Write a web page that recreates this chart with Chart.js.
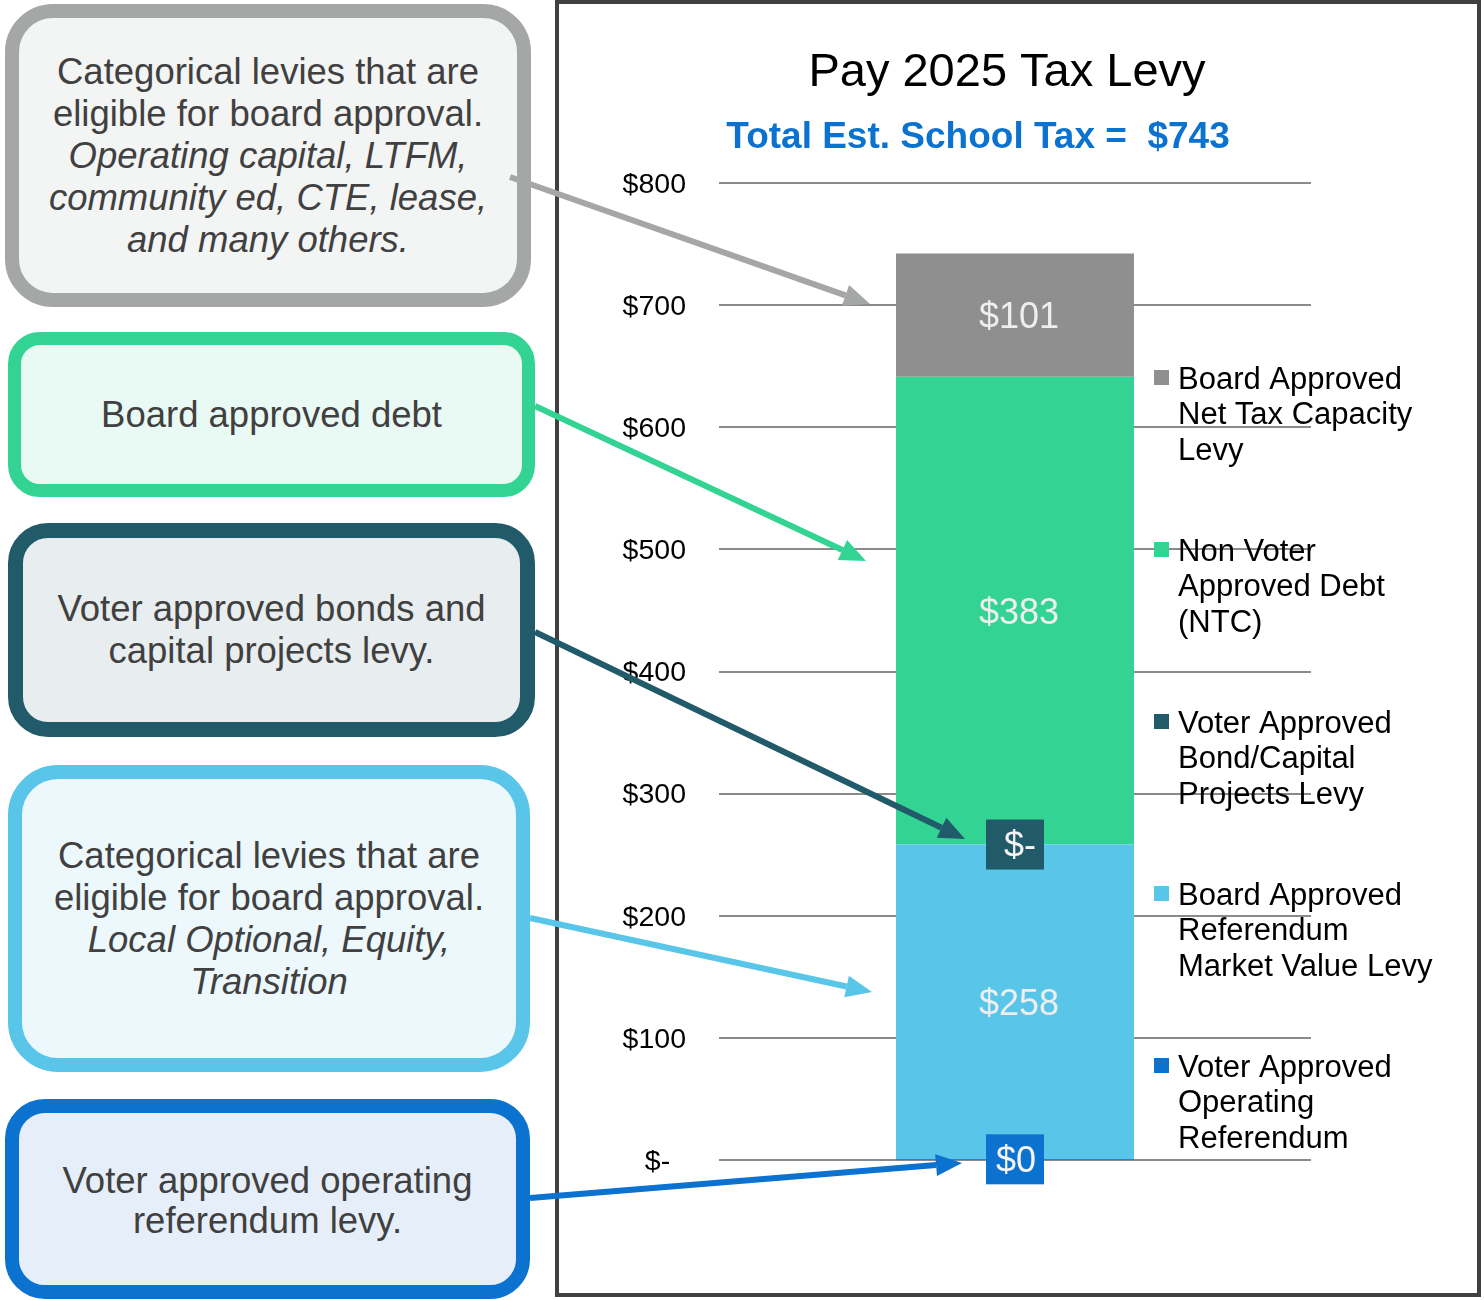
<!DOCTYPE html>
<html lang="en">
<head>
    <meta charset="UTF-8">
    <title>Pay 2025 Tax Levy</title>
    <script src="https://cdn.jsdelivr.net/npm/chart.js"></script>
    <style>
        body { margin: 0; background: #fff; font-family: Arial, "Liberation Sans", sans-serif; }
        #wrap { position: relative; width: 1484px; height: 1300px; overflow: hidden; }
        #levyChart { position: absolute; left: 0; top: 0; z-index: 2; pointer-events: none; }
        .note {
            position: absolute; box-sizing: border-box;
            display: flex; align-items: center; justify-content: center;
            text-align: center; color: #404040; font-size: 36.5px; line-height: 42px;
        }
        .note i { font-style: italic; }
    </style>
</head>
<body>
<div id="wrap">
    <div class="note" style="left:5px;top:4px;width:526px;height:303px;border:14px solid #A5A6A6;background:#F3F4F4;border-radius:48px;">
        <div>Categorical levies that are<br>eligible for board approval.<br><i>Operating capital, LTFM,<br>community ed, CTE, lease,<br>and many others.</i></div>
    </div>
    <div class="note" style="left:8px;top:332px;width:527px;height:165px;border:13px solid #32D393;background:#E9F9F3;border-radius:32px;">
        <div>Board approved debt</div>
    </div>
    <div class="note" style="left:8px;top:523px;width:527px;height:214px;border:15px solid #215A69;background:#E8EDEF;border-radius:40px;">
        <div>Voter approved bonds and<br>capital projects levy.</div>
    </div>
    <div class="note" style="left:8px;top:765px;width:522px;height:307px;border:14px solid #58C5E9;background:#EDF8FC;border-radius:50px;">
        <div>Categorical levies that are<br>eligible for board approval.<br><i>Local Optional, Equity,<br>Transition</i></div>
    </div>
    <div class="note" style="left:5px;top:1099px;width:525px;height:200px;border:14px solid #0B72CF;background:#E6EFF9;border-radius:40px;line-height:40px;">
        <div style="margin-top:4px;">Voter approved operating<br>referendum levy.</div>
    </div>
    <canvas id="levyChart" width="1484" height="1300"></canvas>
</div>
<script>
    // stack order, bottom to top
    const seriesNames = [
        ['Voter Approved', 'Operating', 'Referendum'],
        ['Board Approved', 'Referendum', 'Market Value Levy'],
        ['Voter Approved', 'Bond/Capital', 'Projects Levy'],
        ['Non Voter', 'Approved Debt', '(NTC)'],
        ['Board Approved', 'Net Tax Capacity', 'Levy']
    ];
    const seriesValues = [0.3, 258, 0, 383, 101];
    const seriesColors = ['#0B72CF', '#58C5E9', '#215A69', '#32D393', '#8F8F8F'];
    const categories = ['Pay 2025'];
    const yTicks = [0, 100, 200, 300, 400, 500, 600, 700, 800];

    const titleText = 'Pay 2025 Tax Levy';
    const subtitleText = 'Total Est. School Tax =  $743';

    const FONT = 'Arial, "Liberation Sans", sans-serif';

    // callout arrows: from note box edge to the bar
    const callouts = [
        { from: [510, 177], to: [870, 304], color: '#A5A6A6' },
        { from: [535, 406], to: [866, 561], color: '#32D393' },
        { from: [535, 632], to: [965, 839], color: '#215A69' },
        { from: [530, 918], to: [872, 992], color: '#58C5E9' },
        { from: [530, 1198], to: [962, 1163], color: '#0B72CF' }
    ];

    function money(v) {
        if (v === 0) return '$-';
        return '$' + Math.round(v);
    }

    const labelPlugin = {
        id: 'segmentLabels',
        afterDatasetsDraw(chart) {
            const ctx = chart.ctx;
            ctx.save();
            ctx.font = '36px ' + FONT;
            ctx.textAlign = 'center';
            ctx.textBaseline = 'middle';
            chart.data.datasets.forEach((ds, i) => {
                const bar = chart.getDatasetMeta(i).data[0];
                const v = ds.data[0];
                const cx = bar.x;
                const cy = (bar.y + bar.base) / 2;
                if (Math.round(v) === 0) {
                    ctx.fillStyle = ds.backgroundColor;
                    ctx.fillRect(cx - 29, cy - 25, 58, 50);
                    ctx.fillStyle = '#F4F4F4';
                    ctx.fillText(money(v), cx + (v === 0 ? 5 : 1), cy + 3);
                } else {
                    ctx.fillStyle = '#EEEEEE';
                    ctx.fillText(money(v), cx + 4, cy + 3);
                }
            });
            ctx.restore();
        },
        afterDraw(chart) {
            const ctx = chart.ctx;
            ctx.save();

            // frame
            ctx.strokeStyle = '#404040';
            ctx.lineWidth = 4;
            ctx.strokeRect(557, 2, 922, 1293);

            // titles
            ctx.textAlign = 'center';
            ctx.textBaseline = 'alphabetic';
            ctx.fillStyle = '#000';
            ctx.font = '47px ' + FONT;
            ctx.fillText(titleText, 1007, 86);
            ctx.fillStyle = '#0B72CF';
            ctx.font = 'bold 37px ' + FONT;
            ctx.fillText(subtitleText, 978, 148);

            // legend, top series first
            ctx.textAlign = 'left';
            ctx.textBaseline = 'middle';
            ctx.font = '31px ' + FONT;
            const n = chart.data.datasets.length;
            for (let k = 0; k < n; k++) {
                const ds = chart.data.datasets[n - 1 - k];
                const y0 = 378 + k * 172;
                ctx.fillStyle = ds.backgroundColor;
                ctx.fillRect(1154, y0 - 8, 15, 15);
                ctx.fillStyle = '#000';
                ds.lines.forEach((line, j) => ctx.fillText(line, 1178, y0 + 2 + j * 35.7));
            }

            // arrows
            callouts.forEach(c => {
                const [x1, y1] = c.from, [x2, y2] = c.to;
                const ang = Math.atan2(y2 - y1, x2 - x1);
                const hl = 26, hw = 11;
                const bx = x2 - hl * Math.cos(ang), by = y2 - hl * Math.sin(ang);
                ctx.strokeStyle = c.color;
                ctx.fillStyle = c.color;
                ctx.lineWidth = 6;
                ctx.beginPath();
                ctx.moveTo(x1, y1);
                ctx.lineTo(bx, by);
                ctx.stroke();
                ctx.beginPath();
                ctx.moveTo(x2, y2);
                ctx.lineTo(bx + hw * Math.sin(ang), by - hw * Math.cos(ang));
                ctx.lineTo(bx - hw * Math.sin(ang), by + hw * Math.cos(ang));
                ctx.closePath();
                ctx.fill();
            });
            ctx.restore();
        }
    };

    const datasets = seriesNames.map((lines, i) => ({
        label: lines.join(' '),
        lines: lines,
        data: [seriesValues[i]],
        backgroundColor: seriesColors[i],
        borderWidth: 0,
        barPercentage: 0.402,
        categoryPercentage: 1
    }));

    const config = {
        type: 'bar',
        data: { labels: categories, datasets: datasets },
        options: {
            responsive: false,
            animation: false,
            layout: { padding: { left: 560, right: 173, top: 183, bottom: 140 } },
            plugins: {
                legend: { display: false },
                title: { display: false },
                tooltip: { enabled: false }
            },
            scales: {
                x: { stacked: true, display: false },
                y: {
                    stacked: true,
                    min: 0,
                    max: 800,
                    afterFit(scale) { scale.width = 159; },
                    afterBuildTicks(scale) { scale.ticks = yTicks.map(v => ({ value: v })); },
                    border: { display: false },
                    grid: { color: '#8A8A8A', lineWidth: 2, drawTicks: false },
                    ticks: {
                        padding: 33,
                        labelOffset: 2,
                        color: '#000',
                        font: { family: FONT, size: 28.5 },
                        callback: v => v === 0 ? '$-  ' : '$' + v
                    }
                }
            }
        },
        plugins: [labelPlugin]
    };

    const levyChart = new Chart(document.getElementById('levyChart'), config);
</script>
</body>
</html>
